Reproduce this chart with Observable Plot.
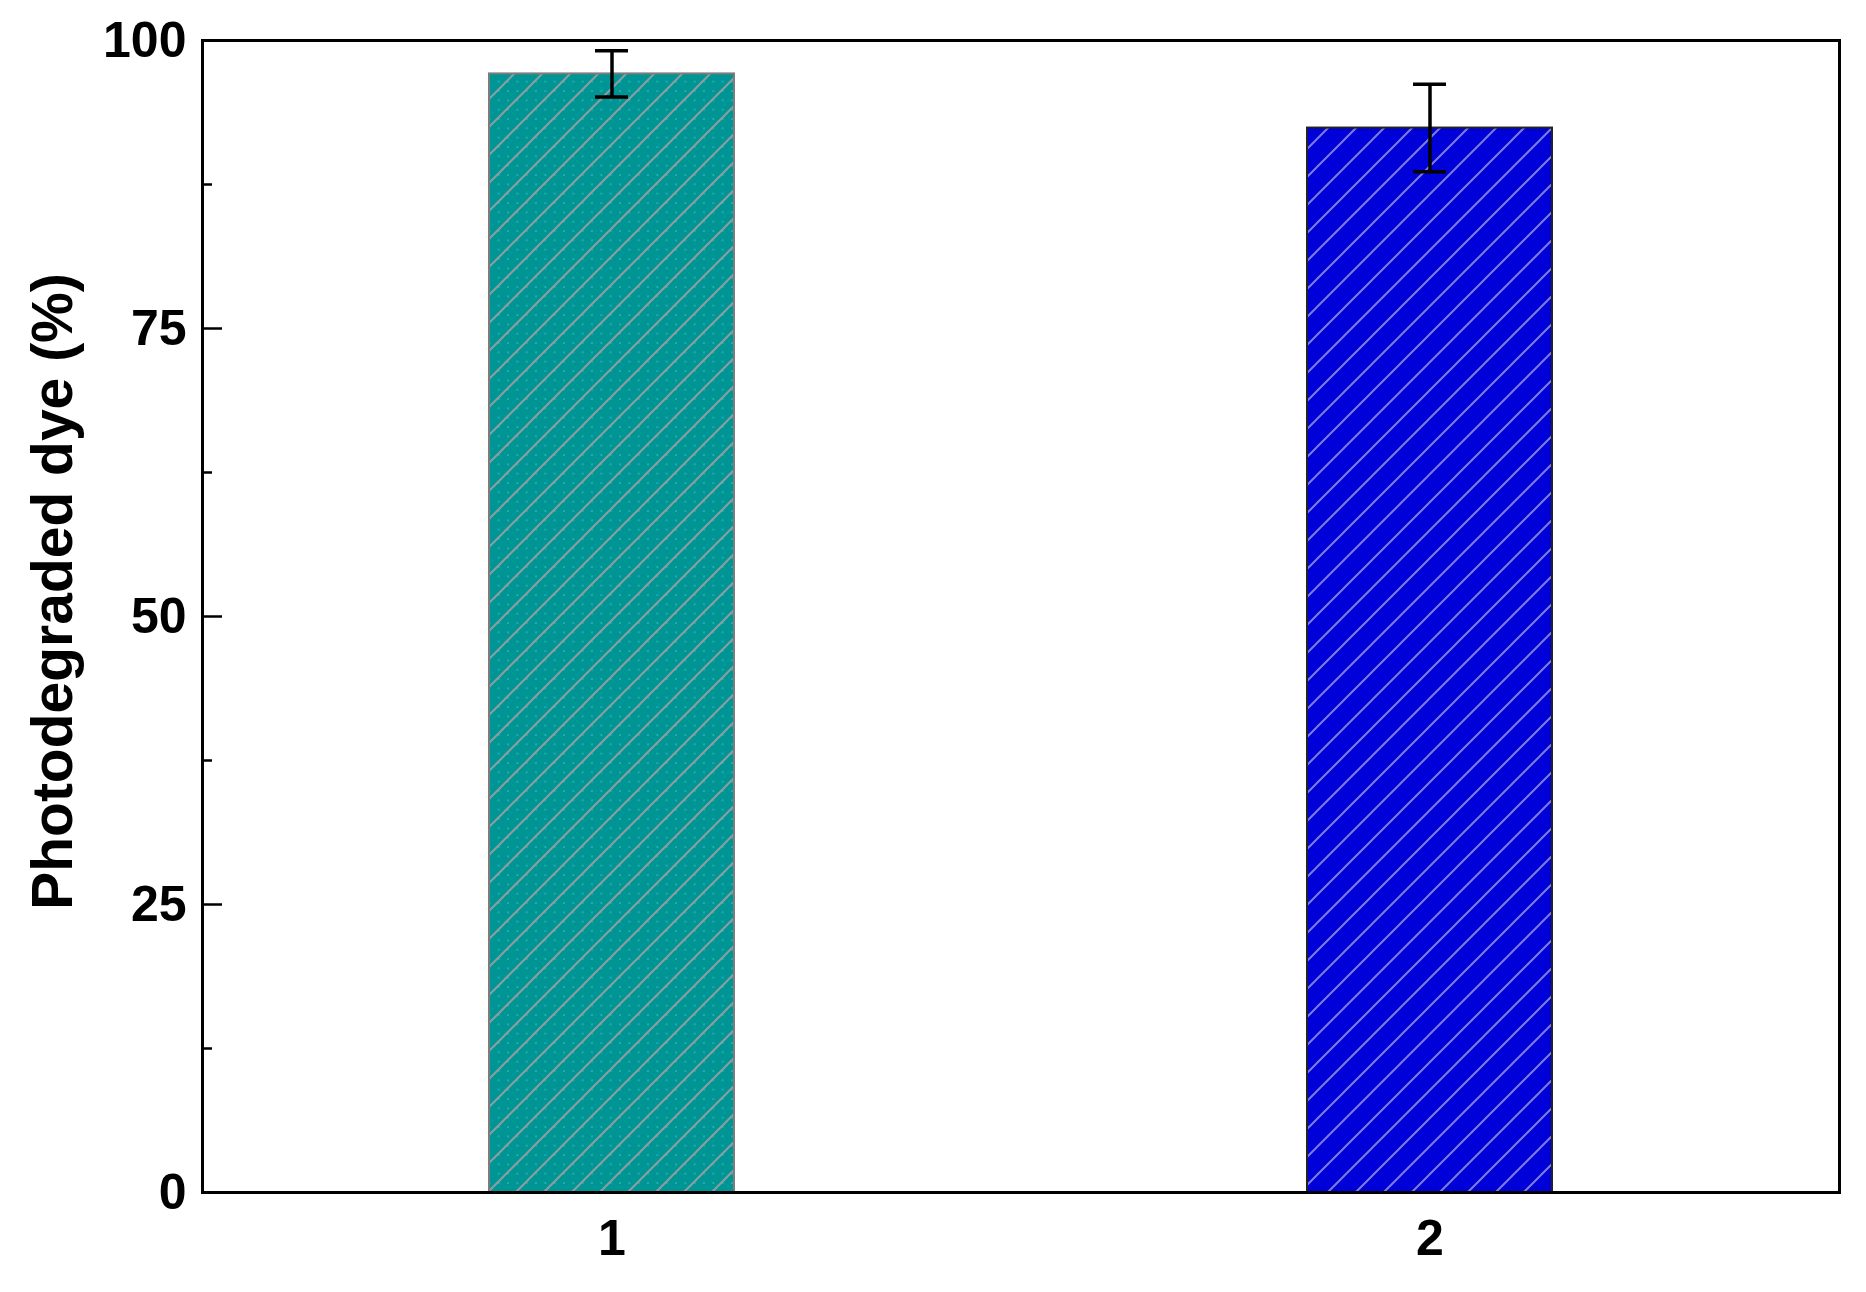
<!DOCTYPE html>
<html>
<head>
<meta charset="utf-8">
<script src="https://cdn.jsdelivr.net/npm/d3@7"></script>
<script src="https://cdn.jsdelivr.net/npm/@observablehq/plot@0.6"></script>
<style>
  html, body { margin: 0; padding: 0; background: #fff; }
  #chart svg { display: block; }
</style>
</head>
<body>
<div id="chart"></div>
<script>
// ---- data ----
const categories = [1, 2];
const values = [97.1, 92.4];
const errors = [2.0, 3.8];
const yMajorTicks = [0, 25, 50, 75, 100];
const yMinorTicks = [12.5, 37.5, 62.5, 87.5];
const yLabel = "Photodegraded dye (%)";

// ---- styles ----
const barColors = ["#009595", "#0000d8"];
const hatchColors = ["#8e9ca0", "#7c7cdc"];
const dotColors = ["#25a9a9", null];
const barStrokes = ["#7c7c7c", "#222222"];

const W = 1866, H = 1292;
const margin = {top: 40, right: 27, bottom: 100, left: 202};
const innerWidth = W - margin.left - margin.right;
const font = "'Liberation Sans', Arial, sans-serif";

const data = categories.map((c, i) => ({cat: c, value: values[i], err: errors[i], i}));

const marks = [];
data.forEach(d => {
  marks.push(Plot.barY([d], {
    x: "cat", y: "value",
    fill: `url(#hatch${d.i})`,
    stroke: barStrokes[d.i], strokeWidth: 2
  }));
});
marks.push(
  Plot.ruleX(data, {x: "cat", y1: d => d.value - d.err, y2: d => d.value + d.err, stroke: "#000", strokeWidth: 3.5}),
  Plot.tickY(data, {x: "cat", y: d => d.value + d.err, stroke: "#000", strokeWidth: 3.5, insetLeft: 106, insetRight: 106}),
  Plot.tickY(data, {x: "cat", y: d => d.value - d.err, stroke: "#000", strokeWidth: 3.5, insetLeft: 106, insetRight: 106}),
  Plot.ruleY(yMajorTicks, {stroke: "#000", strokeWidth: 2.5, insetRight: innerWidth - 20}),
  Plot.ruleY(yMinorTicks, {stroke: "#000", strokeWidth: 2.5, insetRight: innerWidth - 10}),
  Plot.frame({stroke: "#000", strokeWidth: 3}),
  Plot.axisY(yMajorTicks, {tickSize: 0, tickPadding: 16, fontSize: 50, fontWeight: "bold", label: null}),
  Plot.axisX(categories, {tickSize: 0, tickPadding: 27, fontSize: 50, fontWeight: "bold", label: null}),
  Plot.text([yLabel], {frameAnchor: "left", textAnchor: "middle", rotate: -90, dx: -149, dy: -25, fontSize: 57, fontWeight: "bold", fill: "#000"})
);

const chart = Plot.plot({
  width: W, height: H,
  marginTop: margin.top, marginRight: margin.right, marginBottom: margin.bottom, marginLeft: margin.left,
  style: {fontFamily: font, background: "#fff", color: "#000"},
  x: {type: "band", domain: categories, paddingInner: 0.7, paddingOuter: 0.35, axis: null},
  y: {domain: [0, 100], axis: null},
  marks
});

// hatch patterns (45° lines, 28px horizontal spacing)
const T = 28;
const svg = d3.select(chart);
const defs = svg.insert("defs", ":first-child");
barColors.forEach((c, i) => {
  const p = defs.append("pattern")
    .attr("id", `hatch${i}`)
    .attr("patternUnits", "userSpaceOnUse")
    .attr("width", T).attr("height", T);
  p.append("rect").attr("width", T).attr("height", T).attr("fill", c);
  if (dotColors[i]) {
    for (let a = 0; a < 3; a++) for (let b = 0; b < 3; b++)
      p.append("rect").attr("x", 3 + a * T / 3).attr("y", 6 + b * T / 3)
        .attr("width", 2).attr("height", 2).attr("fill", dotColors[i]);
  }
  p.append("path")
    .attr("d", `M0,${T} L${T},0 M${-T/2},${T/2} L${T/2},${-T/2} M${T/2},${3*T/2} L${3*T/2},${T/2}`)
    .attr("stroke", hatchColors[i]).attr("stroke-width", 2).attr("fill", "none");
});

document.getElementById("chart").appendChild(chart);
</script>
</body>
</html>
